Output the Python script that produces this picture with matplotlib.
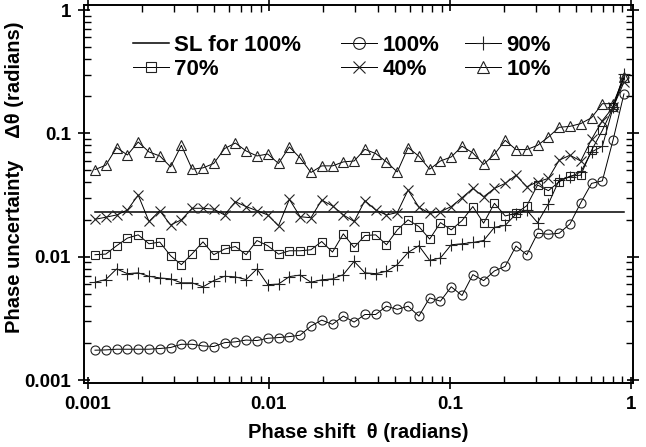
import matplotlib.pyplot as plt
from matplotlib.ticker import LogLocator, NullFormatter

plt.rcParams['font.family'] = ['Liberation Sans', 'DejaVu Sans']
plt.rcParams['font.weight'] = 'bold'

# phase shift (radians), same grid for every curve
phase_shift = [0.001093, 0.001254, 0.001439, 0.001651, 0.001894, 0.002173, 0.002493, 0.002860,
               0.003281, 0.003764, 0.004319, 0.004955, 0.005685, 0.006523, 0.007483, 0.008586,
               0.009849, 0.01130, 0.01297, 0.01488, 0.01707, 0.01958, 0.02246, 0.02577,
               0.02957, 0.03392, 0.03892, 0.04465, 0.05122, 0.05877, 0.06742, 0.07735,
               0.08874, 0.1018, 0.1168, 0.1340, 0.1537, 0.1764, 0.2023, 0.2321,
               0.2663, 0.3055, 0.3505, 0.4021, 0.4613, 0.5293, 0.6072, 0.6967,
               0.7993, 0.9170]

sl_level = 0.023  # standard limit for 100%

unc_100 = [0.001746, 0.001755, 0.001778, 0.001778, 0.001778, 0.001778, 0.001802, 0.001835,
           0.00195, 0.00195, 0.00189, 0.00187, 0.00201, 0.00204, 0.00211, 0.00209,
           0.00218, 0.00221, 0.00225, 0.00231, 0.00274, 0.00306, 0.00283, 0.0033,
           0.00295, 0.0034, 0.0034, 0.00397, 0.00374, 0.00397, 0.0033, 0.00464,
           0.00436, 0.0057, 0.00485, 0.00716, 0.0064, 0.00767, 0.00835, 0.0122,
           0.01038, 0.0155, 0.0152, 0.0155, 0.01845, 0.0274, 0.0393, 0.0412,
           0.089, 0.209]

unc_90 = [0.00621, 0.00653, 0.00796, 0.00729, 0.0074, 0.00694, 0.00673, 0.00661,
          0.00614, 0.00614, 0.0057, 0.0064, 0.00694, 0.00686, 0.00653, 0.00796,
          0.00594, 0.006, 0.0069, 0.0071, 0.00621, 0.0065, 0.00661, 0.00716,
          0.00917, 0.0074, 0.00729, 0.00761, 0.00862, 0.01083, 0.01227, 0.00934,
          0.00977, 0.0125, 0.01273, 0.01304, 0.01353, 0.0173, 0.01795, 0.0222,
          0.0238, 0.0189, 0.0268, 0.0418, 0.0444, 0.0487, 0.0707, 0.0786,
          0.163, 0.303]

unc_70 = [0.01038, 0.0105, 0.01227, 0.01415, 0.01504, 0.01273, 0.01314, 0.01019,
          0.00862, 0.01057, 0.0132, 0.01038, 0.01153, 0.0121, 0.01038, 0.01353,
          0.01227, 0.0105, 0.01117, 0.01117, 0.01138, 0.01328, 0.0109, 0.01532,
          0.01188, 0.01485, 0.01504, 0.0125, 0.0165, 0.0199, 0.01755, 0.0139,
          0.0189, 0.0165, 0.01963, 0.0255, 0.0187, 0.0271, 0.0214, 0.0225,
          0.0259, 0.0381, 0.0343, 0.0405, 0.045, 0.0458, 0.0729, 0.1057,
          0.163, 0.281]

unc_40 = [0.0201, 0.0209, 0.0218, 0.0239, 0.0316, 0.0193, 0.0236, 0.0181,
          0.0199, 0.0247, 0.0247, 0.0243, 0.0218, 0.0279, 0.0255, 0.0236,
          0.0218, 0.0178, 0.0292, 0.0211, 0.0207, 0.0288, 0.0258, 0.0218,
          0.0193, 0.0285, 0.0239, 0.0218, 0.0228, 0.0347, 0.0252, 0.0225,
          0.0232, 0.0255, 0.0301, 0.0358, 0.0306, 0.0358, 0.0393, 0.0458,
          0.0369, 0.0405, 0.0431, 0.0606, 0.0665, 0.0597, 0.0895, 0.127,
          0.163, 0.26]

unc_10 = [0.0509, 0.0552, 0.0767, 0.0668, 0.0851, 0.0707, 0.0656, 0.0535,
          0.080, 0.0512, 0.0525, 0.057, 0.0753, 0.0835, 0.072, 0.0656,
          0.068, 0.057, 0.0776, 0.0632, 0.0482, 0.0545, 0.0545, 0.0587,
          0.0597, 0.0743, 0.0686, 0.0587, 0.0487, 0.0767, 0.0653, 0.0512,
          0.0597, 0.0644, 0.0786, 0.0694, 0.056, 0.0677, 0.0878, 0.0739,
          0.0739, 0.080, 0.0934, 0.112, 0.114, 0.120, 0.134, 0.174,
          0.174, 0.285]

x_ticks = [0.001, 0.01, 0.1, 1]
x_tick_labels = ['0.001', '0.01', '0.1', '1']
y_ticks = [0.001, 0.01, 0.1, 1]
y_tick_labels = ['0.001', '0.01', '0.1', '1']

fig, ax = plt.subplots(figsize=(6.46, 4.47), dpi=100)
fig.subplots_adjust(left=0.130, right=0.980, bottom=0.143, top=0.989)

sl, = ax.plot([phase_shift[0], phase_shift[-1]], [sl_level, sl_level],
              color='black', lw=1.1)

series = [
    (unc_100, 'o', 6.5, '100%'),
    (unc_90, '+', 8, '90%'),
    (unc_70, 's', 6, '70%'),
    (unc_40, 'x', 7, '40%'),
    (unc_10, '^', 7, '10%'),
]
lines = {}
for vals, mk, ms, lab in series:
    ln, = ax.plot(phase_shift, vals, color='black', lw=0.7, marker=mk, ms=ms,
                  mfc='none', mec='#222222', mew=0.8)
    lines[lab] = ln

ax.set_xscale('log')
ax.set_yscale('log')
ax.set_xlim(0.00095, 1.03)
ax.set_ylim(0.000945, 1.1)

ax.set_xticks(x_ticks, x_tick_labels)
ax.set_yticks(y_ticks, y_tick_labels)
ax.xaxis.set_minor_locator(LogLocator(base=10, subs=range(2, 10)))
ax.yaxis.set_minor_locator(LogLocator(base=10, subs=range(2, 10)))
ax.xaxis.set_minor_formatter(NullFormatter())
ax.yaxis.set_minor_formatter(NullFormatter())

ax.tick_params(which='major', direction='inout', length=9, width=1.2,
               top=True, right=True, labelsize=13.5, pad=5)
ax.tick_params(which='minor', direction='in', length=5, width=1,
               top=True, right=True)
for sp in ax.spines.values():
    sp.set_linewidth(1.4)

ax.set_xlabel('Phase shift  θ (radians)', fontsize=14.5, fontweight='bold', labelpad=7)
ax.set_ylabel('Phase uncertainty    Δθ (radians)', fontsize=14.5, fontweight='bold')
ax.yaxis.set_label_coords(-0.11, 0.545)

# legend laid out as three columns
columns = [
    ([sl, lines['70%']], ['SL for 100%', '70%'], 0.206),
    ([lines['100%'], lines['40%']], ['100%', '40%'], 0.528),
    ([lines['90%'], lines['10%']], ['90%', '10%'], 0.720),
]
for handles, labels, xpos in columns:
    leg = fig.legend(handles, labels, loc='upper left', bbox_to_anchor=(xpos, 0.922),
                     frameon=False, handlelength=1.6, handletextpad=0.25,
                     labelspacing=0.15, borderpad=0, borderaxespad=0, markerscale=1.3,
                     prop={'weight': 'bold', 'size': 16})

fig.savefig('out.png', dpi=100)
